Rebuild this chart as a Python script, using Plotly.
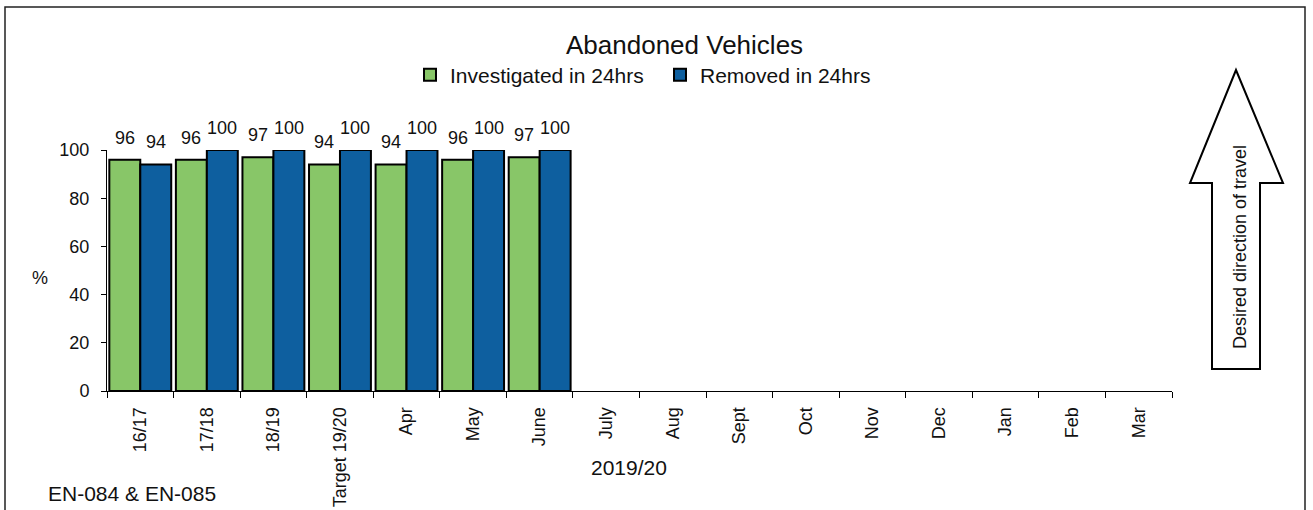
import plotly.graph_objects as go

# Reporting periods shown on the category axis
categories = ["16/17", "17/18", "18/19", "Target 19/20", "Apr", "May", "June",
              "July", "Aug", "Sept", "Oct", "Nov", "Dec", "Jan", "Feb", "Mar"]

# Percentage values (only the first seven periods are reported so far)
investigated = [96, 96, 97, 94, 94, 96, 97]
removed = [94, 100, 100, 100, 100, 100, 100]

W, H = 1313, 510
L, R, T, B = 107, 141, 150, 119
FONT = "Liberation Sans, Arial, sans-serif"
GREEN = "#88c668"
BLUE = "#0e5f9f"
BARGAP = 0.07


def px(x):
    return (x - L) / (W - L - R)


def py(y):
    return (H - B - y) / (H - T - B)


def pad(vals):
    return list(vals) + [None] * (len(categories) - len(vals))


fig = go.Figure()
series = [("Investigated in 24hrs", investigated, GREEN),
          ("Removed in 24hrs", removed, BLUE)]
for name, vals, col in series:
    fig.add_trace(go.Bar(
        x=categories, y=pad(vals), name=name,
        marker=dict(color=col, line=dict(color="black", width=2)),
        cliponaxis=False,
    ))

# Value labels above each bar, placed at the centre of each grouped bar
annotations = []
half = (1 - BARGAP) / 4
for k, (name, vals, col) in enumerate(series):
    offset = -half if k == 0 else half
    for i, v in enumerate(vals):
        annotations.append(dict(
            x=i + offset, y=v, xref="x", yref="y", text=str(v),
            showarrow=False, xanchor="center", yanchor="bottom", yshift=10,
            font=dict(size=18, family=FONT, color="#111"),
        ))

# Arrow outline indicating the desired direction of travel
arrow = [(1236, 70), (1283, 183), (1260, 183), (1260, 369), (1212, 369),
         (1212, 183), (1190, 183)]
path = "M " + " L ".join(f"{px(x):.5f},{py(y):.5f}" for x, y in arrow) + " Z"

shapes = [
    dict(type="rect", xref="paper", yref="paper",
         x0=px(5), x1=px(1305), y0=py(7), y1=py(520),
         line=dict(color="#222", width=1.5), fillcolor="rgba(0,0,0,0)", layer="below"),
    dict(type="path", xref="paper", yref="paper", path=path,
         line=dict(color="black", width=2), fillcolor="white"),
]


def label(text, x, y, size, angle=0):
    return dict(text=text, x=px(x), y=py(y), xref="paper", yref="paper",
                xanchor="center", yanchor="middle", showarrow=False,
                textangle=angle, font=dict(size=size, family=FONT, color="#111"))


annotations += [
    label("Abandoned Vehicles", 684, 45, 26),
    label("%", 40, 278, 18),
    label("2019/20", 629, 467, 21),
    label("EN-084 & EN-085", 132, 493, 21),
    label("Desired direction of travel", 1240, 247, 18, -90),
]

fig.update_layout(
    width=W, height=H,
    margin=dict(l=L, r=R, t=T, b=B, autoexpand=False),
    paper_bgcolor="white", plot_bgcolor="white",
    font=dict(family=FONT, size=18, color="#111"),
    barmode="group", bargap=BARGAP, bargroupgap=0.0,
    showlegend=True,
    legend=dict(orientation="h", x=px(660), y=py(75), xanchor="center",
                yanchor="middle", font=dict(size=21, family=FONT),
                entrywidth=205, traceorder="normal",
                bgcolor="rgba(0,0,0,0)"),
    shapes=shapes, annotations=annotations,
)
fig.update_xaxes(type="category", categoryorder="array", categoryarray=categories,
                 range=[-0.5, len(categories) - 0.5],
                 showline=True, linecolor="black", linewidth=1,
                 ticks="outside", tickson="boundaries", ticklen=6, tickcolor="black",
                 tickangle=-90, showgrid=False, tickfont=dict(size=18),
                 ticklabelstandoff=8)
fig.update_yaxes(range=[0, 100], tickvals=[0, 20, 40, 60, 80, 100],
                 showline=True, linecolor="black", linewidth=1,
                 ticks="outside", ticklen=5, tickcolor="black",
                 showgrid=False, zeroline=False, tickfont=dict(size=18),
                 ticklabelstandoff=8)

fig.write_html("out.html")
